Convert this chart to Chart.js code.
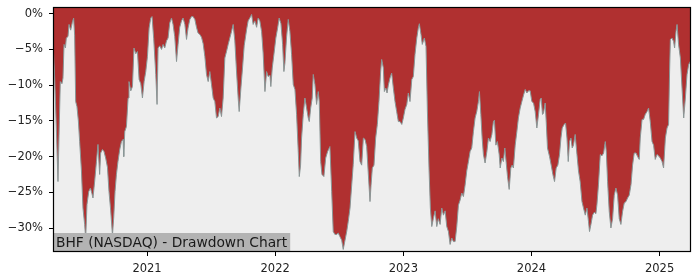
<!DOCTYPE html>
<html>
<head>
<meta charset="utf-8">
<script src="https://cdn.jsdelivr.net/npm/chart.js@4.4.1/dist/chart.umd.min.js"></script>
<style>
  html, body { margin: 0; padding: 0; background: #ffffff; }
  #wrap { width: 700px; height: 280px; }
</style>
</head>
<body>
<div id="wrap"><canvas id="c" width="700" height="280"></canvas></div>
<script>
const chartTitle = "BHF (NASDAQ) - Drawdown Chart";
const xTicks = [2021, 2022, 2023, 2024, 2025];
const yTicks = [0, -5, -10, -15, -20, -25, -30];
const xRange = [2020.266, 2025.245];
const yRange = [-33.36, 0.94];

const dates = [
2020.266,2020.279,2020.292,2020.305,2020.313,2020.323,2020.336,2020.344,2020.352,2020.363,
2020.370,2020.383,2020.391,2020.404,2020.417,2020.427,2020.435,2020.443,2020.453,2020.464,
2020.474,2020.488,2020.500,2020.513,2020.521,2020.531,2020.545,2020.558,2020.570,2020.578,
2020.591,2020.605,2020.617,2020.630,2020.638,2020.652,2020.664,2020.677,2020.691,2020.703,
2020.716,2020.730,2020.740,2020.750,2020.761,2020.773,2020.787,2020.800,2020.813,2020.818,
2020.826,2020.839,2020.852,2020.859,2020.873,2020.886,2020.898,2020.912,2020.925,2020.938,
2020.951,2020.964,2020.977,2020.990,2021.003,2021.016,2021.029,2021.039,2021.052,2021.068,
2021.078,2021.086,2021.099,2021.113,2021.125,2021.138,2021.152,2021.164,2021.177,2021.191,
2021.203,2021.216,2021.230,2021.242,2021.255,2021.269,2021.281,2021.295,2021.308,2021.320,
2021.334,2021.347,2021.359,2021.373,2021.386,2021.398,2021.412,2021.425,2021.438,2021.451,
2021.464,2021.477,2021.490,2021.503,2021.516,2021.529,2021.542,2021.555,2021.568,2021.581,
2021.594,2021.607,2021.620,2021.633,2021.646,2021.659,2021.672,2021.685,2021.698,2021.711,
2021.719,2021.732,2021.745,2021.758,2021.777,2021.789,2021.802,2021.816,2021.828,2021.841,
2021.855,2021.867,2021.880,2021.894,2021.906,2021.920,2021.933,2021.945,2021.959,2021.966,
2021.977,2021.990,2022.005,2022.019,2022.031,2022.045,2022.058,2022.068,2022.076,2022.089,
2022.102,2022.115,2022.128,2022.141,2022.154,2022.167,2022.180,2022.188,2022.198,2022.206,
2022.219,2022.232,2022.245,2022.258,2022.266,2022.277,2022.289,2022.297,2022.310,2022.323,
2022.336,2022.344,2022.355,2022.365,2022.380,2022.394,2022.409,2022.427,2022.441,2022.453,
2022.466,2022.480,2022.492,2022.505,2022.519,2022.531,2022.545,2022.558,2022.570,2022.584,
2022.597,2022.609,2022.623,2022.636,2022.648,2022.662,2022.675,2022.688,2022.701,2022.714,
2022.727,2022.740,2022.748,2022.758,2022.771,2022.784,2022.797,2022.810,2022.823,2022.831,
2022.844,2022.852,2022.863,2022.873,2022.883,2022.896,2022.909,2022.922,2022.935,2022.948,
2022.961,2022.974,2022.988,2023.000,2023.013,2023.027,2023.039,2023.052,2023.066,2023.078,
2023.091,2023.105,2023.117,2023.125,2023.138,2023.148,2023.164,2023.177,2023.188,2023.201,
2023.211,2023.222,2023.234,2023.248,2023.261,2023.273,2023.287,2023.300,2023.313,2023.326,
2023.339,2023.352,2023.365,2023.378,2023.391,2023.404,2023.417,2023.430,2023.443,2023.456,
2023.469,2023.482,2023.495,2023.508,2023.521,2023.534,2023.547,2023.560,2023.573,2023.586,
2023.594,2023.605,2023.615,2023.625,2023.638,2023.652,2023.664,2023.677,2023.691,2023.703,
2023.711,2023.722,2023.734,2023.748,2023.756,2023.769,2023.781,2023.792,2023.802,2023.813,
2023.826,2023.839,2023.849,2023.859,2023.873,2023.886,2023.898,2023.912,2023.925,2023.938,
2023.951,2023.964,2023.977,2023.990,2024.003,2024.016,2024.029,2024.042,2024.055,2024.068,
2024.076,2024.086,2024.094,2024.107,2024.115,2024.125,2024.141,2024.154,2024.167,2024.180,
2024.193,2024.206,2024.219,2024.230,2024.240,2024.255,2024.266,2024.277,2024.287,2024.297,
2024.308,2024.318,2024.328,2024.341,2024.355,2024.367,2024.380,2024.394,2024.406,2024.420,
2024.433,2024.445,2024.453,2024.464,2024.477,2024.490,2024.503,2024.511,2024.523,2024.537,
2024.550,2024.563,2024.576,2024.584,2024.594,2024.607,2024.620,2024.633,2024.646,2024.659,
2024.672,2024.685,2024.698,2024.711,2024.724,2024.738,2024.750,2024.763,2024.777,2024.789,
2024.802,2024.816,2024.828,2024.841,2024.849,2024.863,2024.875,2024.888,2024.902,2024.914,
2024.927,2024.941,2024.953,2024.966,2024.980,2024.992,2025.005,2025.019,2025.031,2025.045,
2025.058,2025.070,2025.078,2025.084,2025.097,2025.109,2025.117,2025.128,2025.136,2025.148,
2025.162,2025.175,2025.188,2025.201,2025.214,2025.227,2025.245
];

const drawdown = [
-3.9,-9,-16,-23.5,-17,-9.5,-9.8,-9,-4.3,-4.8,
-3.4,-3.2,-1.5,-2.3,-1.2,-0.6,-3,-12.3,-13,-15,
-17.9,-22,-27.2,-29.5,-31.5,-26.7,-24.9,-24.4,-25.2,-25.8,
-23.5,-20.7,-18.3,-22.5,-19.5,-19,-19.3,-20.2,-21.5,-24.9,
-27.5,-31,-28.5,-24.9,-22.5,-20.7,-19,-17.9,-17.6,-20,
-16.5,-15.8,-11.8,-9.5,-10.8,-10.2,-4.8,-5.6,-5.3,-9.2,
-9.8,-11.8,-9.5,-8.1,-6,-2,-0.6,-0.4,-3.5,-8.5,
-12.7,-4.8,-4.5,-5,-4.3,-4.8,-3.8,-3.4,-1.3,-0.6,
-1.5,-3.2,-6.7,-4.3,-1.9,-1,-0.6,-1.5,-3.6,-2,
-0.8,-0.4,-0.4,-0.8,-1.9,-2.7,-2.9,-3.3,-4.2,-6,
-8.5,-9.5,-8.1,-9.9,-11.8,-12.3,-14.6,-14.4,-13.2,-14.4,
-11.8,-6.2,-5.3,-4.3,-3.4,-2.5,-1.5,-3.8,-8,-11.8,
-13.7,-10.5,-7.6,-4.5,-2.2,-1,-0.6,-0.1,-1.5,-1,
-1.9,-0.6,-1,-2.5,-5.5,-10.9,-8.1,-8.8,-8.6,-10.2,
-7.6,-5.7,-3.4,-2,-0.6,-1.4,-4.3,-8.1,-6.9,-3.2,
-0.8,-2.5,-5.7,-9.9,-10.6,-14.1,-19.3,-22.8,-21.2,-17.4,
-14.1,-11.8,-13.2,-14.6,-15.1,-13.2,-11.8,-8.5,-9.9,-12.7,
-10.9,-12.3,-20.7,-22.5,-22.8,-20.2,-19.3,-18.6,-24.9,-30.5,
-30.9,-30.9,-30.7,-31.2,-31.7,-33,-31.7,-30.5,-29.1,-27.2,
-24,-21.1,-16.5,-17.4,-17.8,-20.7,-21.2,-17.4,-17.6,-18.6,
-22.5,-26.3,-24,-21.6,-21.2,-17.4,-15.5,-12.3,-8.1,-6.4,
-7.6,-10.9,-10.4,-11.1,-10,-9,-8.3,-10.4,-12.3,-13.7,
-15.1,-15.1,-15.5,-14.6,-13.4,-12.7,-11.1,-12.3,-9.2,-8.8,
-5.7,-3.4,-2,-1.4,-2.9,-4.3,-3.4,-4.6,-13.7,-22,
-27.2,-29.8,-28.7,-27.6,-29.8,-28.7,-29.5,-27.2,-28.2,-27.6,
-29.8,-30.5,-32.3,-31.4,-31.9,-31.9,-29.8,-26.8,-26.1,-25.1,
-25.6,-24,-22,-20.7,-19.3,-18.8,-16.5,-14.6,-13.7,-12.3,
-10.9,-14.1,-17.4,-19.7,-20.9,-19.3,-17.4,-17.9,-16.9,-15.1,
-14.9,-18.4,-17.9,-19.7,-21.6,-20.2,-20.7,-18.8,-20.7,-22.8,
-24.6,-21.6,-21.2,-21.6,-18.4,-16.5,-14.6,-13.2,-12.3,-11.4,
-10.6,-11.1,-10.8,-10.8,-12.3,-12.5,-13.7,-16,-14.1,-12,
-11.8,-14.1,-13.9,-12.5,-15.1,-18.8,-20,-21.2,-22.5,-23.5,
-21.6,-21.2,-19.7,-17.4,-16,-15.5,-15.3,-17.4,-20.7,-17.9,
-17.4,-18.8,-18.4,-16.9,-19.7,-22,-23.5,-26.3,-27.2,-28.2,
-27.2,-29.1,-30.5,-29.5,-28.2,-27.8,-28,-26.7,-23.9,-19.7,
-19.9,-19.5,-17.9,-19.3,-23.5,-27.7,-30,-28.7,-25.4,-24.4,
-25.4,-28.7,-29.5,-27.7,-26.5,-26.3,-25.8,-25.4,-23.9,-21.2,
-19.5,-19.5,-20,-20.4,-17.4,-14.8,-14.8,-14.1,-13.7,-13.2,
-15.1,-17.9,-18.4,-20.4,-19.7,-19.9,-20.2,-20.7,-21.6,-17.4,
-16,-15.5,-8,-3.6,-3.4,-3.9,-4.8,-2.5,-1.5,-4.3,
-6.2,-10.4,-14.6,-11.8,-8.5,-7.1,-6.5
];

const FONT = "'DejaVu Sans', sans-serif";

const framePlugin = {
  id: 'framePlugin',
  beforeDatasetsDraw(chart) {
    const { ctx, chartArea: a } = chart;
    ctx.save();
    ctx.fillStyle = '#eeeeee';
    ctx.fillRect(a.left, a.top, a.right - a.left, a.bottom - a.top);
    ctx.restore();
  },
  afterDatasetsDraw(chart) {
    const { ctx, chartArea: a } = chart;
    ctx.save();
    ctx.font = "13.8px " + FONT;
    const tw = ctx.measureText(chartTitle).width;
    const boxH = 19;
    ctx.fillStyle = '#b3b3b3';
    ctx.fillRect(a.left, a.bottom - boxH, tw + 6, boxH);
    ctx.fillStyle = '#1a1a1a';
    ctx.textBaseline = 'alphabetic';
    ctx.textAlign = 'left';
    ctx.fillText(chartTitle, a.left + 3, a.bottom - 5);
    ctx.strokeStyle = '#000000';
    ctx.lineWidth = 1.2;
    ctx.strokeRect(Math.round(a.left) + 0.5, Math.round(a.top) + 0.5,
                   Math.round(a.right - a.left) - 1, Math.round(a.bottom - a.top) - 1);
    ctx.restore();
  }
};

new Chart(document.getElementById('c'), {
  type: 'line',
  data: {
    datasets: [{
      data: dates.map((d, i) => ({ x: d, y: drawdown[i] })),
      borderColor: '#8a9696',
      borderWidth: 1,
      backgroundColor: '#b03030',
      fill: 'end',
      pointRadius: 0,
      tension: 0
    }]
  },
  options: {
    responsive: false,
    animation: false,
    devicePixelRatio: 1,
    layout: { padding: { top: 0, right: 9, left: 0, bottom: 0 } },
    plugins: { legend: { display: false }, tooltip: { enabled: false } },
    scales: {
      x: {
        type: 'linear',
        min: xRange[0],
        max: xRange[1],
        afterBuildTicks(scale) { scale.ticks = xTicks.map(v => ({ value: v })); },
        afterFit(scale) { scale.height = 28; },
        border: { display: false },
        grid: { drawOnChartArea: false, drawTicks: true, tickLength: 4, color: '#000000', lineWidth: 1 },
        ticks: { color: '#222222', font: { family: FONT, size: 11.5 }, padding: 6, maxRotation: 0,
                 callback: v => String(v) }
      },
      y: {
        min: yRange[0],
        max: yRange[1],
        afterBuildTicks(scale) { scale.ticks = yTicks.map(v => ({ value: v })); },
        afterFit(scale) { scale.width = 53; scale.paddingTop = 7; scale.paddingBottom = 0; },
        border: { display: false },
        grid: { drawOnChartArea: false, drawTicks: true, tickLength: 4, color: '#000000', lineWidth: 1 },
        ticks: { color: '#222222', font: { family: FONT, size: 11.5 }, padding: 6,
                 callback: v => (v < 0 ? '\u2212' + Math.abs(v) : String(v)) + '%' }
      }
    }
  },
  plugins: [framePlugin]
});
</script>
</body>
</html>
